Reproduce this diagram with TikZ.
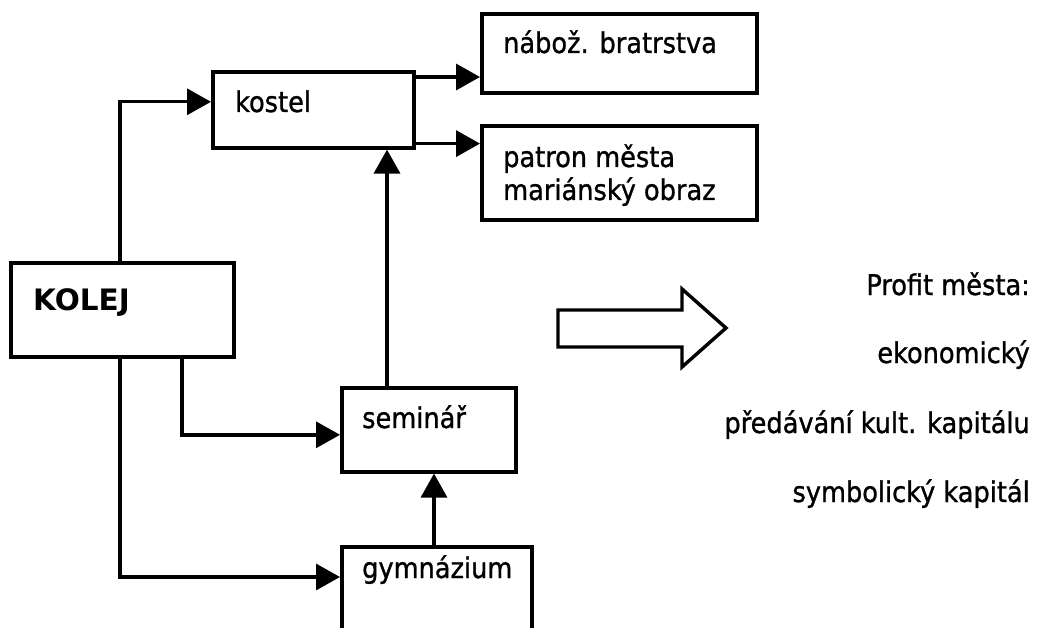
\documentclass[tikz,border=0pt]{standalone}
\usepackage{fontspec}
\setmainfont[RawFeature={embolden=1.0}]{DejaVu Sans Condensed}
\newfontfamily\boldf{DejaVu Sans Bold}
\usetikzlibrary{arrows.meta,calc}
\newcommand{\fs}{\fontsize{28.5}{32}\selectfont}
\tikzset{
  box/.style={draw, line width=3.6pt, inner sep=0pt, anchor=north west},
  conn/.style={line width=3.4pt, -{Triangle[length=24pt,width=26pt]}},
  lbl/.style={inner sep=0pt, font=\fs},
}
\begin{document}
\begin{tikzpicture}[x=1pt,y=-1pt]
\useasboundingbox (0,0) rectangle (1060,628);
\clip (0,0) rectangle (1060,628);
\fill[white] (0,0) rectangle (1060,628);
% boxes
\node[box, minimum width=201pt, minimum height=76pt] (kostel) at (211,70) {};
\node[box, minimum width=275pt, minimum height=79pt] (nab) at (480,12) {};
\node[box, minimum width=275pt, minimum height=94pt] (patron) at (480,124) {};
\node[box, minimum width=223pt, minimum height=94pt] (kolej) at (9,261) {};
\node[box, minimum width=174pt, minimum height=84pt] (seminar) at (340,386) {};
\node[box, minimum width=190pt, minimum height=130pt] (gym) at (340,545) {};
% texts
\node[lbl, anchor=base west] (tkostel) at (235,112) {kostel};
\node[lbl, anchor=base west] (tnab) at (503,53) {nábož. bratrstva};
\node[lbl, anchor=base west] (tpat1) at (503,167) {patron města};
\node[lbl, anchor=base west] (tpat2) at (503,200) {mariánský obraz};
\node[lbl, anchor=base west, font=\fontsize{29.5}{32}\boldf] (tkolej) at (33,310) {KOLEJ};
\node[lbl, anchor=base west] (tsem) at (362,428) {seminář};
\node[lbl, anchor=base west] (tgym) at (362,578) {gymnázium};
% right texts
\node[lbl, anchor=base east] (p1) at (1030,295) {Profit města:};
\node[lbl, anchor=base east] (p2) at (1030,363) {ekonomický};
\node[lbl, anchor=base east] (p3) at (1030,433) {předávání kult. kapitálu};
\node[lbl, anchor=base east] (p4) at (1030,502) {symbolický kapitál};
% connectors
\coordinate (a1) at ($(kolej.north west)+(111,0)$);
\draw[conn] (a1) |- ($(kostel.west)+(0,-8)$);
\coordinate (k1) at ($(kostel.north east)+(0,7)$);
\draw[conn] (k1) -- (k1 -| nab.west);
\coordinate (k2) at ($(kostel.south east)+(0,-6)$);
\draw[conn] (k2) -- (k2 -| patron.west);
\coordinate (s1) at ($(seminar.north west)+(47,0)$);
\draw[conn] (s1) -- (s1 |- kostel.south);
\coordinate (g1) at ($(gym.north west)+(94,0)$);
\draw[conn] (g1) -- (g1 |- seminar.south);
\coordinate (c1) at ($(kolej.south west)+(173,0)$);
\draw[conn] (c1) |- ($(seminar.west)+(0,5)$);
\coordinate (c2) at ($(kolej.south west)+(111,0)$);
\draw[conn] (c2) |- ($(gym.north west)+(0,32)$);
% block arrow
\draw[line width=3.4pt, line join=miter] (558,310) -- (682,310) -- (682,289) -- (726,328) -- (682,367) -- (682,347) -- (558,347) -- cycle;
\end{tikzpicture}
\end{document}
